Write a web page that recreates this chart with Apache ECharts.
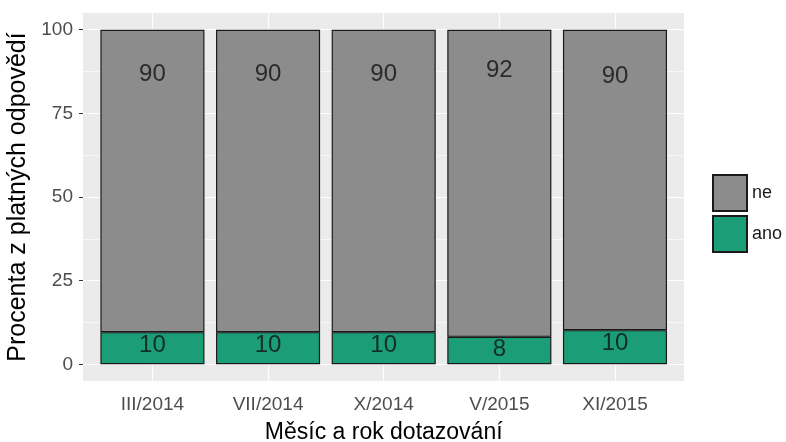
<!DOCTYPE html>
<html>
<head>
<meta charset="utf-8">
<script src="https://cdn.jsdelivr.net/npm/echarts@6/dist/echarts.min.js"></script>
<style>
  html, body { margin: 0; padding: 0; background: #fff; }
  #chart { width: 786px; height: 442px; }
</style>
</head>
<body>
<div id="chart"></div>
<script>
var categories = ['III/2014', 'VII/2014', 'X/2014', 'V/2015', 'XI/2015'];
var anoData = [9.6, 9.6, 9.6, 8.2, 10.2];
var neData = [90.4, 90.4, 90.4, 91.8, 89.8];
var yTicks = [0, 25, 50, 75, 100];
var yMinor = [12.5, 37.5, 62.5, 87.5];

var font = 'Liberation Sans, Arial, sans-serif';

var chart = echarts.init(document.getElementById('chart'));

// horizontal grid lines (panel grid), vertical ones (bar grid)
var hLines = [];
for (var v of yTicks) hLines.push({ yAxis: v, lineStyle: { width: 1.2 } });
for (var v of yMinor) hLines.push({ yAxis: v, lineStyle: { width: 0.6 } });
var vLines = [];
for (var c of categories) vLines.push({ xAxis: c, lineStyle: { width: 1.2 } });

function labelPoints(arr) {
    var out = [];
    for (var i = 0; i < arr.length; i++) out.push([categories[i], arr[i]]);
    return out;
}

var option = {
    backgroundColor: '#ffffff',
    animation: false,
    grid: [{
        // grey panel with the y axis
        left: 83,
        right: 102,
        top: 13,
        bottom: 61,
        show: true,
        backgroundColor: '#ebebeb',
        borderWidth: 0,
        outerBoundsMode: 'none'
    }, {
        // bars, category range expanded like ggplot (0.6 of a step each side)
        left: 94.6,
        right: 113.2,
        top: 13,
        bottom: 61,
        outerBoundsMode: 'none'
    }],
    legend: {
        data: ['ne', 'ano'],
        orient: 'vertical',
        left: 707,
        top: 169,
        itemWidth: 34,
        itemHeight: 36,
        itemGap: 3,
        icon: 'rect',
        textStyle: { fontFamily: font, fontSize: 18, color: '#1a1a1a' }
    },
    xAxis: [{
        gridIndex: 0,
        type: 'value',
        min: 0,
        max: 1,
        show: false
    }, {
        gridIndex: 1,
        type: 'category',
        data: categories,
        name: 'Měsíc a rok dotazování',
        nameLocation: 'middle',
        nameGap: 40,
        nameTextStyle: { fontFamily: font, fontSize: 23, color: '#000' },
        axisLine: { show: false },
        axisTick: { show: true, alignWithLabel: true, length: 4, lineStyle: { color: '#333' } },
        axisLabel: { fontFamily: font, fontSize: 19, color: '#4d4d4d', margin: 14 },
        splitLine: { show: false }
    }],
    yAxis: [{
        gridIndex: 0,
        type: 'value',
        min: -5,
        max: 105,
        name: 'Procenta z platných odpovědí',
        nameLocation: 'middle',
        nameGap: 49,
        nameTextStyle: { fontFamily: font, fontSize: 25, color: '#000' },
        axisLine: { show: false },
        axisTick: { show: true, length: 4, customValues: yTicks, lineStyle: { color: '#333' } },
        axisLabel: { fontFamily: font, fontSize: 19, color: '#4d4d4d', margin: 10, customValues: yTicks },
        splitLine: { show: false }
    }, {
        gridIndex: 1,
        type: 'value',
        min: -5,
        max: 105,
        show: false,
        splitLine: { show: false }
    }],
    series: [{
        name: 'hgrid',
        type: 'line',
        xAxisIndex: 0,
        yAxisIndex: 0,
        data: [],
        silent: true,
        markLine: {
            z: 1,
            silent: true,
            symbol: 'none',
            label: { show: false },
            lineStyle: { color: '#ffffff', type: 'solid' },
            data: hLines
        }
    }, {
        name: 'vgrid',
        type: 'line',
        xAxisIndex: 1,
        yAxisIndex: 1,
        data: [],
        silent: true,
        markLine: {
            z: 1,
            silent: true,
            symbol: 'none',
            label: { show: false },
            lineStyle: { color: '#ffffff', type: 'solid' },
            data: vLines
        }
    }, {
        name: 'ano',
        type: 'bar',
        xAxisIndex: 1,
        yAxisIndex: 1,
        stack: 'total',
        barWidth: '90%',
        z: 2,
        itemStyle: { color: '#1b9e77', borderColor: '#1a1a1a', borderWidth: 1.2 },
        data: anoData
    }, {
        name: 'ne',
        type: 'bar',
        xAxisIndex: 1,
        yAxisIndex: 1,
        stack: 'total',
        barWidth: '90%',
        z: 2,
        itemStyle: { color: '#8c8c8c', borderColor: '#1a1a1a', borderWidth: 1.2 },
        data: neData
    }, {
        name: 'ano-label',
        type: 'scatter',
        xAxisIndex: 1,
        yAxisIndex: 1,
        symbolSize: 0,
        z: 3,
        silent: true,
        label: {
            show: true, position: 'inside', offset: [0, 13],
            fontFamily: font, fontSize: 24, color: '#111',
            formatter: function (p) { return Math.round(p.value[1]); }
        },
        data: labelPoints(anoData)
    }, {
        name: 'ne-label',
        type: 'scatter',
        xAxisIndex: 1,
        yAxisIndex: 1,
        symbolSize: 0,
        z: 3,
        silent: true,
        label: {
            show: true, position: 'inside', offset: [0, 13],
            fontFamily: font, fontSize: 24, color: '#111',
            formatter: function (p) { return Math.round(p.value[1]); }
        },
        data: labelPoints(neData)
    }]
};
chart.setOption(option);
</script>
</body>
</html>
